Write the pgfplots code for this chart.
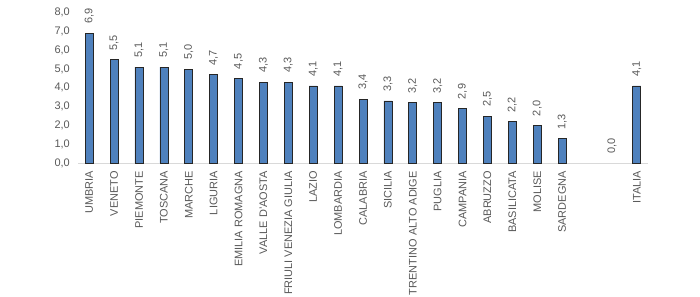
\documentclass[border=0pt]{standalone}
\usepackage{fontspec}
\setmainfont{Liberation Sans}
\usepackage{pgfplots}
\pgfplotsset{compat=1.18}
\definecolor{barblue}{HTML}{4F81BD}
\definecolor{bartxt}{HTML}{595959}
\definecolor{baseline}{HTML}{D9D9D9}
\begin{document}
\begin{tikzpicture}[x=1bp,y=1bp]
\begin{axis}[
  at={(78bp,134bp)}, anchor=south west,
  scale only axis,
  width=570bp, height=150.4bp,
  xmin=-0.45, xmax=22.45,
  ymin=0, ymax=8,
  ytick={0,1,...,8},
  xtick={0,...,22},
  xticklabels={UMBRIA,VENETO,PIEMONTE,TOSCANA,MARCHE,LIGURIA,EMILIA ROMAGNA,VALLE D'AOSTA,FRIULI VENEZIA GIULIA,LAZIO,LOMBARDIA,CALABRIA,SICILIA,TRENTINO ALTO ADIGE,PUGLIA,CAMPANIA,ABRUZZO,BASILICATA,MOLISE,SARDEGNA,{},{},ITALIA},
  major tick length=0pt,
  axis x line*=bottom,
  axis y line*=left,
  x axis line style={draw=baseline, line width=0.8bp, -},
  y axis line style={draw=none},
  every tick label/.append style={font=\fontsize{11}{13}\selectfont, text=bartxt},
  xticklabel style={rotate=90, anchor=east, inner sep=0bp, xshift=-8bp},
  yticklabel style={inner sep=0bp, xshift=-8bp,
    /pgf/number format/.cd, fixed, fixed zerofill, precision=1, use comma, assume math mode=true},
  ybar, bar width=8bp, bar shift=0pt,
  nodes near coords,
  nodes near coords style={rotate=90, anchor=west, inner sep=0bp, xshift=9bp,
    font=\fontsize{11}{13}\selectfont, text=bartxt,
    /pgf/number format/.cd, fixed, fixed zerofill, precision=1, use comma, assume math mode=true},
  clip=false,
]
% regional values, sorted from highest to lowest
\addplot[fill=barblue, draw=black!85, line width=0.7bp] coordinates {
  (0,6.9) (1,5.5) (2,5.1) (3,5.1) (4,5.0) (5,4.7) (6,4.5) (7,4.3) (8,4.3)
  (9,4.1) (10,4.1) (11,3.4) (12,3.3) (13,3.2) (14,3.2) (15,2.9) (16,2.5)
  (17,2.2) (18,2.0) (19,1.3) (22,4.1)
};
% empty slot before the national total
\addplot[draw=none, fill=none] coordinates {(21,0.0)};
\end{axis}
\pgfresetboundingbox
\useasboundingbox (0,0) rectangle (700bp,297bp);
\end{tikzpicture}
\end{document}
